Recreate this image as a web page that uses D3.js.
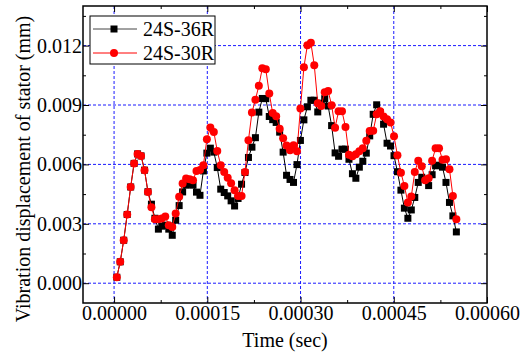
<!DOCTYPE html>
<html>
<head>
<meta charset="utf-8">
<script src="https://cdn.jsdelivr.net/npm/d3@7/dist/d3.min.js"></script>
<style>
  body { margin: 0; background: #fff; }
  text { font-family: "Liberation Serif", "Times New Roman", serif; fill: #000; }
</style>
</head>
<body>
<svg id="chart" width="532" height="353"></svg>
<script>
// sample times, microseconds
const timeUs = [4.4, 9.9, 15.5, 21.1, 26.7, 32.2, 37.8, 43.4, 49.0, 54.5,
  60.1, 65.7, 71.3, 76.8, 82.4, 88.0, 93.6, 99.1, 104.7, 110.3,
  115.9, 121.4, 127.0, 132.6, 138.2, 143.7, 149.3, 154.9, 160.5, 166.0,
  171.6, 177.2, 182.8, 188.3, 193.9, 199.5, 205.1, 210.6, 216.2, 221.8,
  227.4, 232.9, 238.5, 244.1, 249.7, 255.2, 260.8, 266.4, 272.0, 277.5,
  283.1, 288.7, 294.3, 299.8, 305.4, 311.0, 316.6, 322.1, 327.7, 333.3,
  338.9, 344.4, 350.0, 355.6, 361.2, 366.7, 372.3, 377.9, 383.5, 389.0,
  394.6, 400.2, 405.8, 411.3, 416.9, 422.5, 428.1, 433.6, 439.2, 444.8,
  450.4, 455.9, 461.5, 467.1, 472.7, 478.2, 483.8, 489.4, 495.0, 500.5,
  506.1, 511.7, 517.3, 522.8, 528.4, 534.0, 539.6, 545.1, 550.7];

// displacement, mm
const s36R = [0.00030, 0.00108, 0.00217, 0.00347, 0.00486, 0.00605, 0.00653, 0.00643, 0.00571, 0.00462,
  0.00399, 0.00328, 0.00273, 0.00288, 0.00293, 0.00273, 0.00242, 0.00318, 0.00392, 0.00461,
  0.00495, 0.00500, 0.00495, 0.00460, 0.00444, 0.00567, 0.00657, 0.00682, 0.00662, 0.00584,
  0.00475, 0.00458, 0.00441, 0.00416, 0.00390, 0.00428, 0.00500, 0.00559, 0.00635, 0.00687,
  0.00735, 0.00864, 0.00933, 0.00932, 0.00842, 0.00826, 0.00812, 0.00763, 0.00662, 0.00545,
  0.00524, 0.00509, 0.00599, 0.00721, 0.00825, 0.00891, 0.00924, 0.00924, 0.00865, 0.00909,
  0.00932, 0.00895, 0.00796, 0.00658, 0.00641, 0.00677, 0.00677, 0.00626, 0.00553, 0.00530,
  0.00586, 0.00616, 0.00657, 0.00744, 0.00853, 0.00901, 0.00862, 0.00803, 0.00707, 0.00693,
  0.00644, 0.00563, 0.00470, 0.00379, 0.00328, 0.00370, 0.00433, 0.00509, 0.00535, 0.00525,
  0.00493, 0.00548, 0.00593, 0.00596, 0.00586, 0.00509, 0.00408, 0.00340, 0.00259];

const s30R = [0.00030, 0.00108, 0.00217, 0.00347, 0.00486, 0.00605, 0.00653, 0.00643, 0.00571, 0.00460,
  0.00384, 0.00323, 0.00323, 0.00327, 0.00337, 0.00293, 0.00284, 0.00352, 0.00436, 0.00503,
  0.00529, 0.00525, 0.00520, 0.00567, 0.00572, 0.00596, 0.00727, 0.00786, 0.00764, 0.00668,
  0.00596, 0.00561, 0.00533, 0.00505, 0.00470, 0.00441, 0.00441, 0.00562, 0.00722, 0.00862,
  0.00927, 0.00997, 0.01086, 0.01081, 0.00958, 0.00859, 0.00843, 0.00780, 0.00732, 0.00695,
  0.00672, 0.00697, 0.00667, 0.00882, 0.01091, 0.01202, 0.01215, 0.01101, 0.00909, 0.00895,
  0.00965, 0.00971, 0.00899, 0.00785, 0.00869, 0.00869, 0.00789, 0.00649, 0.00641, 0.00651,
  0.00667, 0.00682, 0.00720, 0.00769, 0.00770, 0.00853, 0.00869, 0.00842, 0.00828, 0.00812,
  0.00742, 0.00646, 0.00558, 0.00491, 0.00408, 0.00438, 0.00561, 0.00619, 0.00591, 0.00520,
  0.00530, 0.00619, 0.00682, 0.00682, 0.00623, 0.00626, 0.00576, 0.00441, 0.00323];

const seriesNames = ["24S-36R", "24S-30R"];
const xTicks = [0, 0.00015, 0.0003, 0.00045, 0.0006];
const yTicks = [0, 0.003, 0.006, 0.009, 0.012];

const width = 532, height = 353;
const margin = { top: 6, right: 45, bottom: 50, left: 83 };
const W = width - margin.left - margin.right;
const H = height - margin.top - margin.bottom;

const svg = d3.select("#chart");
const g = svg.append("g").attr("transform", `translate(${margin.left},${margin.top})`);

const x = d3.scaleLinear().domain([-0.00005, 0.0006]).range([0, W]);
const y = d3.scaleLinear().domain([-0.001, 0.014]).range([H, 0]);

const xMinor = d3.range(-0.000075, 0.0006, 0.00015).filter(v => v > -0.00005);
const yMinor = d3.range(-0.0015, 0.014, 0.003).filter(v => v > -0.001);

// grid
const grid = g.append("g").attr("stroke", "#1a1aff").attr("stroke-width", 1).attr("stroke-dasharray", "3,2");
grid.selectAll("line.v").data(xTicks.slice(0, -1)).enter().append("line")
  .attr("x1", d => x(d)).attr("x2", d => x(d)).attr("y1", 0).attr("y2", H);
grid.selectAll("line.h").data(yTicks).enter().append("line")
  .attr("x1", 0).attr("x2", W).attr("y1", d => y(d)).attr("y2", d => y(d));

// axes, ticks pointing in
const fx = d3.format(".5f"), fy = d3.format(".3f");
g.append("g").attr("transform", `translate(0,${H})`)
  .call(d3.axisBottom(x).tickValues(xTicks).tickSize(-6).tickPadding(3).tickFormat(fx));
g.append("g").attr("transform", `translate(0,${H})`)
  .call(d3.axisBottom(x).tickValues(xMinor).tickSize(-3).tickFormat(""));
g.append("g").call(d3.axisTop(x).tickValues(xTicks).tickSize(-6).tickFormat(""));
g.append("g").call(d3.axisTop(x).tickValues(xMinor).tickSize(-3).tickFormat(""));
g.append("g")
  .call(d3.axisLeft(y).tickValues(yTicks).tickSize(-6).tickPadding(1).tickFormat(fy));
g.append("g").call(d3.axisLeft(y).tickValues(yMinor).tickSize(-3).tickFormat(""));
g.append("g").attr("transform", `translate(${W},0)`)
  .call(d3.axisRight(y).tickValues(yTicks).tickSize(-6).tickFormat(""));
g.append("g").attr("transform", `translate(${W},0)`)
  .call(d3.axisRight(y).tickValues(yMinor).tickSize(-3).tickFormat(""));

g.selectAll(".domain").remove();
g.selectAll(".tick line").attr("stroke", "#000").attr("stroke-width", 1);
g.selectAll(".tick text").style("font-size", "20px")
  .style("font-family", "'Liberation Serif', 'Times New Roman', serif");

g.append("rect").attr("width", W).attr("height", H)
  .attr("fill", "none").attr("stroke", "#000").attr("stroke-width", 1.5);

// series
const rows36 = timeUs.map((t, i) => ({ t: t * 1e-6, v: s36R[i] }));
const rows30 = timeUs.map((t, i) => ({ t: t * 1e-6, v: s30R[i] }));
const line = d3.line().x(d => x(d.t)).y(d => y(d.v));

g.append("path").datum(rows36).attr("d", line)
  .attr("fill", "none").attr("stroke", "#000").attr("stroke-width", 1);
g.append("g").selectAll("rect").data(rows36).enter().append("rect")
  .attr("x", d => x(d.t) - 3.5).attr("y", d => y(d.v) - 3.5)
  .attr("width", 7).attr("height", 7).attr("fill", "#000");

g.append("path").datum(rows30).attr("d", line)
  .attr("fill", "none").attr("stroke", "#ff0000").attr("stroke-width", 1);
g.append("g").selectAll("circle").data(rows30).enter().append("circle")
  .attr("cx", d => x(d.t)).attr("cy", d => y(d.v)).attr("r", 4).attr("fill", "#ff0000");

// legend
const legend = svg.append("g").attr("transform", "translate(90,16)");
legend.append("rect").attr("width", 125).attr("height", 48)
  .attr("fill", "#fff").attr("stroke", "#000").attr("stroke-width", 1);
const items = legend.selectAll("g.item").data(seriesNames).enter().append("g")
  .attr("transform", (d, i) => `translate(0,${13 + i * 24})`);
items.append("line").attr("x1", 3).attr("x2", 47).attr("y1", 0).attr("y2", 0)
  .attr("stroke", (d, i) => i === 0 ? "#444" : "#ff0000").attr("stroke-width", 1);
items.filter((d, i) => i === 0).append("rect")
  .attr("x", 20.5).attr("y", -3.5).attr("width", 7).attr("height", 7).attr("fill", "#000");
items.filter((d, i) => i === 1).append("circle")
  .attr("cx", 24).attr("cy", 0).attr("r", 4).attr("fill", "#ff0000");
items.append("text").attr("x", 53).attr("y", 7).style("font-size", "20px").text(d => d);

// axis titles
svg.append("text").attr("x", margin.left + W / 2).attr("y", 347)
  .attr("text-anchor", "middle").style("font-size", "20px").text("Time (sec)");
svg.append("text").attr("transform", "translate(30,169) rotate(-90)")
  .attr("text-anchor", "middle").style("font-size", "20px")
  .text("Vibration displacement of stator (mm)");
</script>
</body>
</html>
